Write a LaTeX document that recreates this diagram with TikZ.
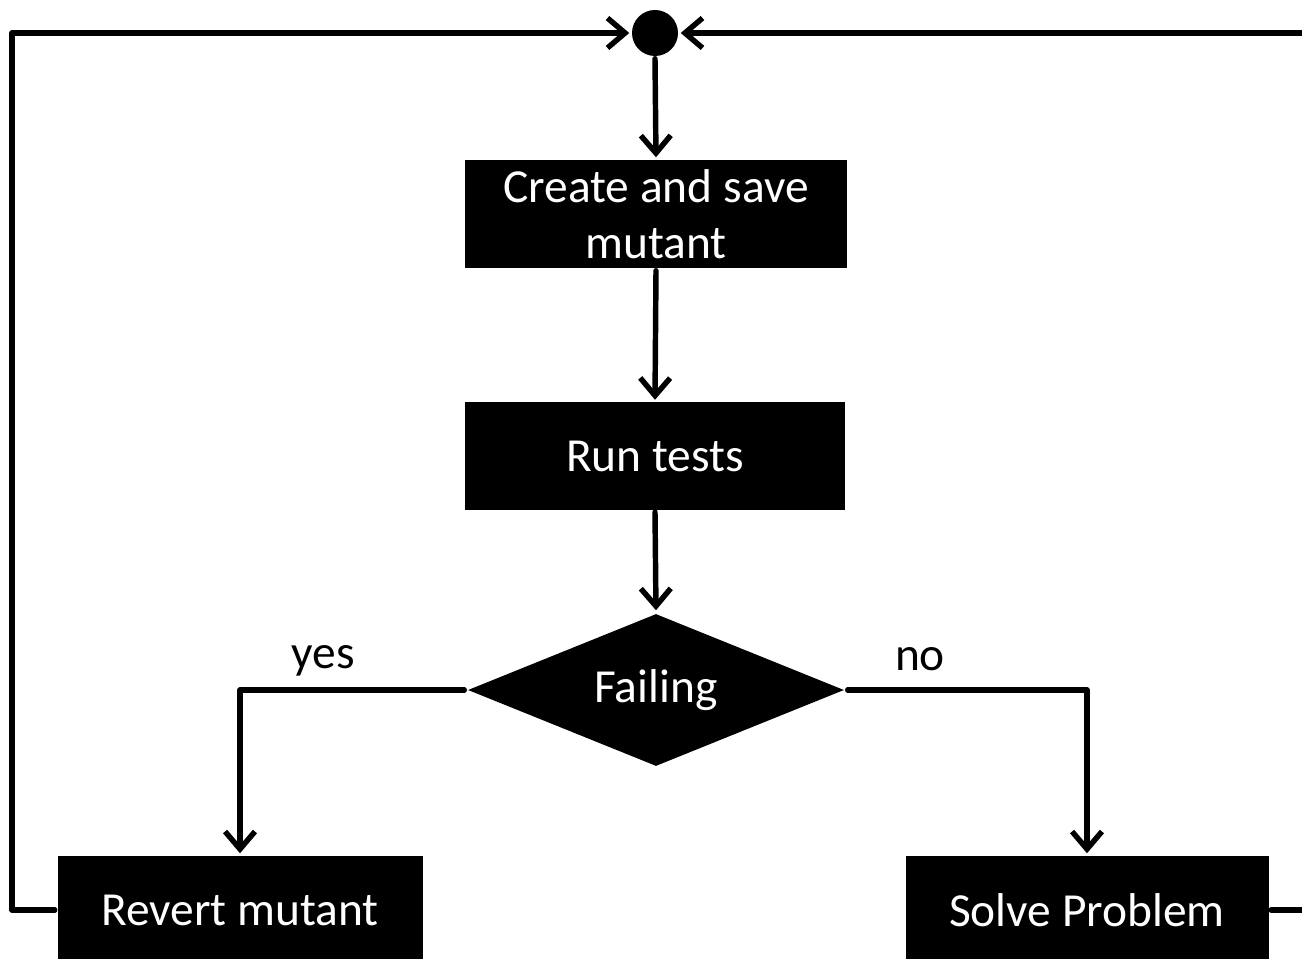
\documentclass[tikz,border=0pt]{standalone}
\usepackage{fontspec}
\setmainfont{Carlito}
\usetikzlibrary{arrows.meta,shapes.geometric}
\begin{document}
\begin{tikzpicture}[x=0.02cm,y=-0.02cm,
  line width=3.1pt,
  box/.style={fill=black,draw=none,text=white,minimum width=382*0.02cm,minimum height=108*0.02cm,inner sep=0pt,font=\fontsize{27}{32}\selectfont,align=center},
  decision/.style={diamond,fill=black,draw=none,text=white,minimum width=378*0.02cm,minimum height=154*0.02cm,inner sep=0pt,aspect=2.45,font=\fontsize{27}{32}\selectfont},
  lbl/.style={font=\fontsize{27}{32}\selectfont},
  arr/.style={-{Straight Barb[length=10pt,width=17pt,line width=3.1pt]},line cap=round,line join=round},
  conn/.style={line cap=round,line join=round}]
\useasboundingbox (0,0) rectangle (1302,959);
\node[circle,fill=black,minimum size=46*0.02cm,inner sep=0pt] (dot) at (655,33) {};
\node[box] (create) at (656,214) {Create and save\\mutant};
\node[box,minimum width=380*0.02cm,minimum height=107*0.02cm] (run) at (655,456) {Run tests};
\node[decision] (fail) at (656,690) {Failing};
\node[box,minimum width=365*0.02cm] (revert) at (240,910) {Revert mutant};
\node[box,minimum width=363*0.02cm] (solve) at (1087,910) {Solve Problem};
\node[lbl] (yes) at (323,661) {yes};
\node[lbl] (no) at (920,659) {no};
\coordinate (rt) at (1302,33);
\coordinate (rb) at (1302,910);
\draw[arr] (dot.south) -- (create.north);
\draw[arr] (create.south) -- (run.north);
\draw[arr] (run.south) -- (fail.north);
\draw[arr] (fail.west) -| (revert.north);
\draw[arr] (fail.east) -| (solve.north);
\draw[arr] (revert.west) -- (12,910) -- (12,33) -- (dot.west);
\draw[arr] (rt) -- (dot.east);
\draw[conn] (solve.east) -- (rb);
\end{tikzpicture}
\end{document}
